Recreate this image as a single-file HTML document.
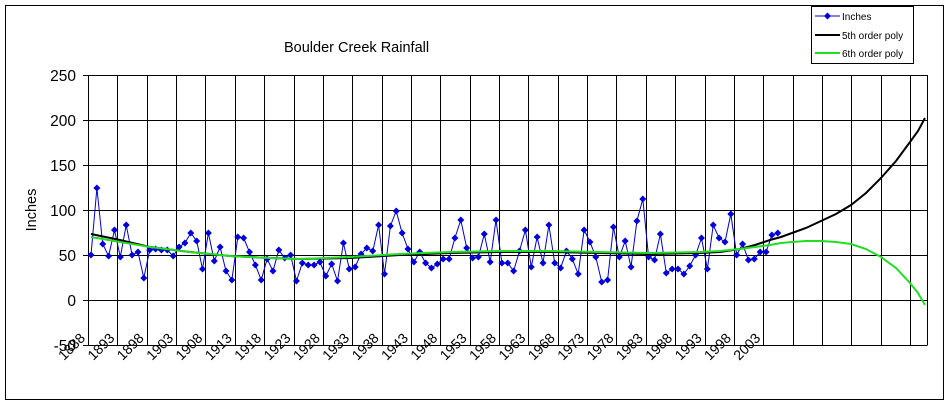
<!DOCTYPE html>
<html><head><meta charset="utf-8"><style>
html,body{margin:0;padding:0;background:#fff;width:951px;height:406px;overflow:hidden}
svg{display:block;font-family:"Liberation Sans",Arial,sans-serif}
</style></head><body>
<svg id="s" width="951" height="406" viewBox="0 0 951 406" xmlns="http://www.w3.org/2000/svg">
<rect x="5.5" y="5.5" width="938" height="394" fill="#fff" stroke="#000" stroke-width="1"/>
<g id="grid" stroke="#000" stroke-width="1" fill="none"></g>
<text x="284" y="52" font-size="14.5">Boulder Creek Rainfall</text>
<g font-size="15.5" text-anchor="end">
<text x="76" y="81">250</text><text x="76" y="126">200</text><text x="76" y="171">150</text>
<text x="76" y="216">100</text><text x="76" y="261">50</text><text x="76" y="306">0</text><text x="76" y="351">-50</text>
</g>
<text transform="translate(36,210) rotate(-90)" font-size="14.5" text-anchor="middle">Inches</text>
<g font-size="14" text-anchor="end">
<text transform="translate(86,339) rotate(-45)">1888</text>
<text transform="translate(115.4,339) rotate(-45)">1893</text>
<text transform="translate(144.7,339) rotate(-45)">1898</text>
<text transform="translate(174.1,339) rotate(-45)">1903</text>
<text transform="translate(203.4,339) rotate(-45)">1908</text>
<text transform="translate(232.8,339) rotate(-45)">1913</text>
<text transform="translate(262.2,339) rotate(-45)">1918</text>
<text transform="translate(291.5,339) rotate(-45)">1923</text>
<text transform="translate(320.9,339) rotate(-45)">1928</text>
<text transform="translate(350.2,339) rotate(-45)">1933</text>
<text transform="translate(379.6,339) rotate(-45)">1938</text>
<text transform="translate(409,339) rotate(-45)">1943</text>
<text transform="translate(438.3,339) rotate(-45)">1948</text>
<text transform="translate(467.7,339) rotate(-45)">1953</text>
<text transform="translate(497,339) rotate(-45)">1958</text>
<text transform="translate(526.4,339) rotate(-45)">1963</text>
<text transform="translate(555.8,339) rotate(-45)">1968</text>
<text transform="translate(585.1,339) rotate(-45)">1973</text>
<text transform="translate(614.5,339) rotate(-45)">1978</text>
<text transform="translate(643.8,339) rotate(-45)">1983</text>
<text transform="translate(673.2,339) rotate(-45)">1988</text>
<text transform="translate(702.6,339) rotate(-45)">1993</text>
<text transform="translate(731.9,339) rotate(-45)">1998</text>
<text transform="translate(761.3,339) rotate(-45)">2003</text>
</g>
<polyline id="data" fill="none" stroke="#0000cc" stroke-width="1"/>
<g id="marks" fill="#0000dd"></g>
<polyline fill="none" stroke="#000" stroke-width="2" points="91,234 120,240 150,247 190,252 230,256 270,258 300,259 350,258 400,255 450,253 500,252 550,252 600,253 650,254 700,253 720,252 740,249 755,245 770,240 781,237 792,233 806,228 821,221 836,214 851,205 866,193 881,178 896,161 910,142 918,131 925,118"/>
<polyline fill="none" stroke="#22dd22" stroke-width="2" points="91,237 120,242 150,247 190,252 230,256 270,258 300,259 350,257 400,254 450,252 500,251 550,251 600,252 650,253 700,252 720,251 740,249 755,247 770,245 781,243 792,242 806,241 821,241 836,242 851,244 866,249 881,257 896,268 910,283 918,293 925,305"/>
<rect x="811.5" y="6.5" width="102" height="57" fill="#fff" stroke="#000"/>
<line x1="815" y1="16" x2="840" y2="16" stroke="#0000cc"/>
<path d="M827.5,12.5 L831,16 L827.5,19.5 L824,16Z" fill="#0000dd"/>
<line x1="815" y1="35" x2="840" y2="35" stroke="#000" stroke-width="2"/>
<line x1="815" y1="53" x2="840" y2="53" stroke="#22dd22" stroke-width="2"/>
<g font-size="10"><text x="842" y="20">Inches</text><text x="842" y="39">5th order poly</text><text x="842" y="57">6th order poly</text></g>
</svg>
<script>
var ns="http://www.w3.org/2000/svg",g=document.getElementById("grid");
function ln(a,b,c,d){var l=document.createElementNS(ns,"line");l.setAttribute("x1",a);l.setAttribute("y1",b);l.setAttribute("x2",c);l.setAttribute("y2",d);g.appendChild(l);}
for(var i=0;i<=6;i++){var y=75+45*i+0.5;ln(83,y,927.5,y);}
for(var k=0;k<=28;k++){var x=Math.round(88+29.36*k)+0.5;ln(x,75,x,345);}
ln(927.5,75,927.5,345);
var ys=[255,188,244,256,230,257,225,255,252,278,250,249,250,250,256,247,243,233,241,269,233,261,247,271,280,237,238,252,265,280,259,271,250,258,255,281,263,265,265,262,276,264,281,243,269,267,254,248,251,225,274,226,211,233,249,262,252,263,268,264,259,259,238,220,248,258,257,234,262,220,263,263,271,251,230,267,237,263,225,263,268,251,259,274,230,242,257,282,280,227,257,241,267,221,199,257,260,234,273,269,269,274,266,255,238,269,225,238,242,214,255,244,260,259,252,252,235,233];
var pts=[],m=document.getElementById("marks");
for(var k=0;k<ys.length;k++){var x=91+5.87*k,y=ys[k];pts.push(x.toFixed(1)+","+y);
var p=document.createElementNS(ns,"path");p.setAttribute("d","M"+x+","+(y-3.5)+" L"+(x+3.5)+","+y+" L"+x+","+(y+3.5)+" L"+(x-3.5)+","+y+"Z");m.appendChild(p);}
document.getElementById("data").setAttribute("points",pts.join(" "));
</script>
</body></html>
